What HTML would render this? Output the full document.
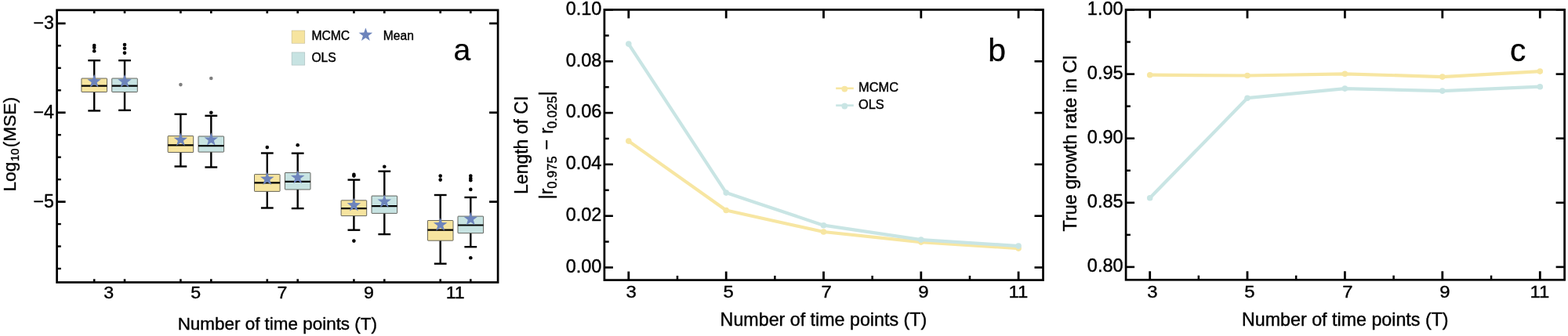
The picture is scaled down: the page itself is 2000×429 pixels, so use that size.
<!DOCTYPE html>
<html><head><meta charset="utf-8"><title>Figure</title>
<style>
html,body{margin:0;padding:0;background:#fff;}
svg{display:block;font-family:'Liberation Sans', sans-serif;fill:#000;}
text{stroke:#000;stroke-width:0.4px;stroke-linejoin:round;}
</style></head>
<body>
<svg width="2000" height="429" viewBox="0 0 2000 429">
<rect x="0" y="0" width="2000" height="429" fill="#ffffff"/>
<rect x="72.6" y="12.9" width="562.5" height="347.6" fill="none" stroke="#000" stroke-width="2.7"/>
<line x1="72.60" y1="29.90" x2="83.60" y2="29.90" stroke="#000" stroke-width="2.7" stroke-linecap="butt"/>
<line x1="624.10" y1="29.90" x2="635.10" y2="29.90" stroke="#000" stroke-width="2.7" stroke-linecap="butt"/>
<line x1="72.60" y1="58.36" x2="77.80" y2="58.36" stroke="#000" stroke-width="2.4" stroke-linecap="butt"/>
<line x1="72.60" y1="86.83" x2="77.80" y2="86.83" stroke="#000" stroke-width="2.4" stroke-linecap="butt"/>
<line x1="72.60" y1="115.29" x2="77.80" y2="115.29" stroke="#000" stroke-width="2.4" stroke-linecap="butt"/>
<line x1="72.60" y1="143.75" x2="83.60" y2="143.75" stroke="#000" stroke-width="2.7" stroke-linecap="butt"/>
<line x1="624.10" y1="143.75" x2="635.10" y2="143.75" stroke="#000" stroke-width="2.7" stroke-linecap="butt"/>
<line x1="72.60" y1="172.21" x2="77.80" y2="172.21" stroke="#000" stroke-width="2.4" stroke-linecap="butt"/>
<line x1="72.60" y1="200.68" x2="77.80" y2="200.68" stroke="#000" stroke-width="2.4" stroke-linecap="butt"/>
<line x1="72.60" y1="229.14" x2="77.80" y2="229.14" stroke="#000" stroke-width="2.4" stroke-linecap="butt"/>
<line x1="72.60" y1="257.60" x2="83.60" y2="257.60" stroke="#000" stroke-width="2.7" stroke-linecap="butt"/>
<line x1="624.10" y1="257.60" x2="635.10" y2="257.60" stroke="#000" stroke-width="2.7" stroke-linecap="butt"/>
<line x1="72.60" y1="286.06" x2="77.80" y2="286.06" stroke="#000" stroke-width="2.4" stroke-linecap="butt"/>
<line x1="72.60" y1="314.52" x2="77.80" y2="314.52" stroke="#000" stroke-width="2.4" stroke-linecap="butt"/>
<line x1="72.60" y1="342.99" x2="77.80" y2="342.99" stroke="#000" stroke-width="2.4" stroke-linecap="butt"/>
<text x="68.90" y="36.90" font-size="23.2" text-anchor="end" >−3</text>
<text x="68.90" y="150.80" font-size="23.2" text-anchor="end" >−4</text>
<text x="68.90" y="264.60" font-size="23.2" text-anchor="end" >−5</text>
<line x1="120.20" y1="12.90" x2="120.20" y2="17.10" stroke="#000" stroke-width="2.6" stroke-linecap="butt"/>
<line x1="120.20" y1="360.50" x2="120.20" y2="356.30" stroke="#000" stroke-width="2.6" stroke-linecap="butt"/>
<line x1="230.40" y1="12.90" x2="230.40" y2="17.10" stroke="#000" stroke-width="2.6" stroke-linecap="butt"/>
<line x1="230.40" y1="360.50" x2="230.40" y2="356.30" stroke="#000" stroke-width="2.6" stroke-linecap="butt"/>
<line x1="340.80" y1="12.90" x2="340.80" y2="17.10" stroke="#000" stroke-width="2.6" stroke-linecap="butt"/>
<line x1="340.80" y1="360.50" x2="340.80" y2="356.30" stroke="#000" stroke-width="2.6" stroke-linecap="butt"/>
<line x1="451.40" y1="12.90" x2="451.40" y2="17.10" stroke="#000" stroke-width="2.6" stroke-linecap="butt"/>
<line x1="451.40" y1="360.50" x2="451.40" y2="356.30" stroke="#000" stroke-width="2.6" stroke-linecap="butt"/>
<line x1="561.70" y1="12.90" x2="561.70" y2="17.10" stroke="#000" stroke-width="2.6" stroke-linecap="butt"/>
<line x1="561.70" y1="360.50" x2="561.70" y2="356.30" stroke="#000" stroke-width="2.6" stroke-linecap="butt"/>
<line x1="159.00" y1="12.90" x2="159.00" y2="17.10" stroke="#000" stroke-width="2.6" stroke-linecap="butt"/>
<line x1="159.00" y1="360.50" x2="159.00" y2="356.30" stroke="#000" stroke-width="2.6" stroke-linecap="butt"/>
<line x1="269.30" y1="12.90" x2="269.30" y2="17.10" stroke="#000" stroke-width="2.6" stroke-linecap="butt"/>
<line x1="269.30" y1="360.50" x2="269.30" y2="356.30" stroke="#000" stroke-width="2.6" stroke-linecap="butt"/>
<line x1="379.70" y1="12.90" x2="379.70" y2="17.10" stroke="#000" stroke-width="2.6" stroke-linecap="butt"/>
<line x1="379.70" y1="360.50" x2="379.70" y2="356.30" stroke="#000" stroke-width="2.6" stroke-linecap="butt"/>
<line x1="490.30" y1="12.90" x2="490.30" y2="17.10" stroke="#000" stroke-width="2.6" stroke-linecap="butt"/>
<line x1="490.30" y1="360.50" x2="490.30" y2="356.30" stroke="#000" stroke-width="2.6" stroke-linecap="butt"/>
<line x1="600.30" y1="12.90" x2="600.30" y2="17.10" stroke="#000" stroke-width="2.6" stroke-linecap="butt"/>
<line x1="600.30" y1="360.50" x2="600.30" y2="356.30" stroke="#000" stroke-width="2.6" stroke-linecap="butt"/>
<text transform="translate(138.80,381.3) scale(1.0,0.96)" font-size="23.2" text-anchor="middle">3</text>
<text transform="translate(249.60,381.3) scale(1.0,0.96)" font-size="23.2" text-anchor="middle">5</text>
<text transform="translate(360.00,381.3) scale(1.0,0.96)" font-size="23.2" text-anchor="middle">7</text>
<text transform="translate(470.40,381.3) scale(1.0,0.96)" font-size="23.2" text-anchor="middle">9</text>
<text transform="translate(580.70,381.3) scale(1.0,0.96)" font-size="23.2" text-anchor="middle">11</text>
<text transform="translate(353.8,420.5) scale(1,0.975)" font-size="22.45" text-anchor="middle">Number of time points (T)</text>
<text transform="translate(19.8,244.6) rotate(-90)" font-size="22.7" text-anchor="start">Log<tspan font-size="14.8" dy="4.2" dx="0.8">10</tspan><tspan dy="-4.2" dx="1.2">(MSE)</tspan></text>
<line x1="120.20" y1="77.20" x2="120.20" y2="100.05" stroke="#000" stroke-width="2.4" stroke-linecap="butt"/>
<line x1="120.20" y1="117.50" x2="120.20" y2="141.40" stroke="#000" stroke-width="2.4" stroke-linecap="butt"/>
<line x1="112.30" y1="77.20" x2="128.10" y2="77.20" stroke="#000" stroke-width="2.4" stroke-linecap="butt"/>
<line x1="112.30" y1="141.40" x2="128.10" y2="141.40" stroke="#000" stroke-width="2.4" stroke-linecap="butt"/>
<rect x="103.90" y="100.05" width="32.6" height="17.45" rx="0.6" fill="#f6e49f" stroke="#4c4c46" stroke-width="0.85"/>
<line x1="103.90" y1="109.70" x2="136.50" y2="109.70" stroke="#000" stroke-width="2.2" stroke-linecap="butt"/>
<polygon points="120.20,94.80 122.36,101.02 128.95,101.16 123.70,105.14 125.61,111.44 120.20,107.68 114.79,111.44 116.70,105.14 111.45,101.16 118.04,101.02" fill="#6d84bc"/>
<circle cx="120.20" cy="58.10" r="2.3" fill="#000"/>
<circle cx="120.20" cy="60.80" r="2.3" fill="#000"/>
<circle cx="120.20" cy="65.20" r="2.3" fill="#000"/>
<line x1="159.00" y1="77.20" x2="159.00" y2="100.05" stroke="#000" stroke-width="2.4" stroke-linecap="butt"/>
<line x1="159.00" y1="117.50" x2="159.00" y2="140.80" stroke="#000" stroke-width="2.4" stroke-linecap="butt"/>
<line x1="151.10" y1="77.20" x2="166.90" y2="77.20" stroke="#000" stroke-width="2.4" stroke-linecap="butt"/>
<line x1="151.10" y1="140.80" x2="166.90" y2="140.80" stroke="#000" stroke-width="2.4" stroke-linecap="butt"/>
<rect x="142.70" y="100.05" width="32.6" height="17.45" rx="0.6" fill="#c7e3e2" stroke="#4c4c46" stroke-width="0.85"/>
<line x1="142.70" y1="109.70" x2="175.30" y2="109.70" stroke="#000" stroke-width="2.2" stroke-linecap="butt"/>
<polygon points="159.00,94.80 161.16,101.02 167.75,101.16 162.50,105.14 164.41,111.44 159.00,107.68 153.59,111.44 155.50,105.14 150.25,101.16 156.84,101.02" fill="#6d84bc"/>
<circle cx="159.00" cy="57.10" r="2.3" fill="#000"/>
<circle cx="159.00" cy="61.80" r="2.3" fill="#000"/>
<circle cx="159.00" cy="67.60" r="2.3" fill="#000"/>
<line x1="230.40" y1="145.80" x2="230.40" y2="173.60" stroke="#000" stroke-width="2.4" stroke-linecap="butt"/>
<line x1="230.40" y1="194.50" x2="230.40" y2="212.50" stroke="#000" stroke-width="2.4" stroke-linecap="butt"/>
<line x1="222.50" y1="145.80" x2="238.30" y2="145.80" stroke="#000" stroke-width="2.4" stroke-linecap="butt"/>
<line x1="222.50" y1="212.50" x2="238.30" y2="212.50" stroke="#000" stroke-width="2.4" stroke-linecap="butt"/>
<rect x="214.10" y="173.60" width="32.6" height="20.90" rx="0.6" fill="#f6e49f" stroke="#4c4c46" stroke-width="0.85"/>
<line x1="214.10" y1="185.30" x2="246.70" y2="185.30" stroke="#000" stroke-width="2.2" stroke-linecap="butt"/>
<polygon points="230.40,169.40 232.56,175.62 239.15,175.76 233.90,179.74 235.81,186.04 230.40,182.28 224.99,186.04 226.90,179.74 221.65,175.76 228.24,175.62" fill="#6d84bc"/>
<circle cx="230.40" cy="108.10" r="2.3" fill="#7f7f7f"/>
<line x1="269.30" y1="147.80" x2="269.30" y2="174.00" stroke="#000" stroke-width="2.4" stroke-linecap="butt"/>
<line x1="269.30" y1="194.10" x2="269.30" y2="213.50" stroke="#000" stroke-width="2.4" stroke-linecap="butt"/>
<line x1="261.40" y1="147.80" x2="277.20" y2="147.80" stroke="#000" stroke-width="2.4" stroke-linecap="butt"/>
<line x1="261.40" y1="213.50" x2="277.20" y2="213.50" stroke="#000" stroke-width="2.4" stroke-linecap="butt"/>
<rect x="253.00" y="174.00" width="32.6" height="20.10" rx="0.6" fill="#c7e3e2" stroke="#4c4c46" stroke-width="0.85"/>
<line x1="253.00" y1="186.10" x2="285.60" y2="186.10" stroke="#000" stroke-width="2.2" stroke-linecap="butt"/>
<polygon points="269.30,169.20 271.46,175.42 278.05,175.56 272.80,179.54 274.71,185.84 269.30,182.08 263.89,185.84 265.80,179.54 260.55,175.56 267.14,175.42" fill="#6d84bc"/>
<circle cx="269.30" cy="143.80" r="2.3" fill="#000"/>
<circle cx="269.30" cy="100.05" r="2.3" fill="#7f7f7f"/>
<line x1="340.80" y1="195.50" x2="340.80" y2="222.60" stroke="#000" stroke-width="2.4" stroke-linecap="butt"/>
<line x1="340.80" y1="244.40" x2="340.80" y2="265.50" stroke="#000" stroke-width="2.4" stroke-linecap="butt"/>
<line x1="332.90" y1="195.50" x2="348.70" y2="195.50" stroke="#000" stroke-width="2.4" stroke-linecap="butt"/>
<line x1="332.90" y1="265.50" x2="348.70" y2="265.50" stroke="#000" stroke-width="2.4" stroke-linecap="butt"/>
<rect x="324.50" y="222.60" width="32.6" height="21.80" rx="0.6" fill="#f6e49f" stroke="#4c4c46" stroke-width="0.85"/>
<line x1="324.50" y1="233.40" x2="357.10" y2="233.40" stroke="#000" stroke-width="2.2" stroke-linecap="butt"/>
<polygon points="340.80,219.40 342.96,225.62 349.55,225.76 344.30,229.74 346.21,236.04 340.80,232.28 335.39,236.04 337.30,229.74 332.05,225.76 338.64,225.62" fill="#6d84bc"/>
<circle cx="340.80" cy="188.10" r="2.3" fill="#000"/>
<line x1="379.70" y1="195.70" x2="379.70" y2="220.50" stroke="#000" stroke-width="2.4" stroke-linecap="butt"/>
<line x1="379.70" y1="242.00" x2="379.70" y2="266.10" stroke="#000" stroke-width="2.4" stroke-linecap="butt"/>
<line x1="371.80" y1="195.70" x2="387.60" y2="195.70" stroke="#000" stroke-width="2.4" stroke-linecap="butt"/>
<line x1="371.80" y1="266.10" x2="387.60" y2="266.10" stroke="#000" stroke-width="2.4" stroke-linecap="butt"/>
<rect x="363.40" y="220.50" width="32.6" height="21.50" rx="0.6" fill="#c7e3e2" stroke="#4c4c46" stroke-width="0.85"/>
<line x1="363.40" y1="231.80" x2="396.00" y2="231.80" stroke="#000" stroke-width="2.2" stroke-linecap="butt"/>
<polygon points="379.70,217.60 381.86,223.82 388.45,223.96 383.20,227.94 385.11,234.24 379.70,230.48 374.29,234.24 376.20,227.94 370.95,223.96 377.54,223.82" fill="#6d84bc"/>
<circle cx="379.70" cy="185.30" r="2.3" fill="#000"/>
<line x1="451.40" y1="229.60" x2="451.40" y2="255.80" stroke="#000" stroke-width="2.4" stroke-linecap="butt"/>
<line x1="451.40" y1="275.60" x2="451.40" y2="293.70" stroke="#000" stroke-width="2.4" stroke-linecap="butt"/>
<line x1="443.50" y1="229.60" x2="459.30" y2="229.60" stroke="#000" stroke-width="2.4" stroke-linecap="butt"/>
<line x1="443.50" y1="293.70" x2="459.30" y2="293.70" stroke="#000" stroke-width="2.4" stroke-linecap="butt"/>
<rect x="435.10" y="255.80" width="32.6" height="19.80" rx="0.6" fill="#f6e49f" stroke="#4c4c46" stroke-width="0.85"/>
<line x1="435.10" y1="266.10" x2="467.70" y2="266.10" stroke="#000" stroke-width="2.2" stroke-linecap="butt"/>
<polygon points="451.40,252.80 453.56,259.02 460.15,259.16 454.90,263.14 456.81,269.44 451.40,265.68 445.99,269.44 447.90,263.14 442.65,259.16 449.24,259.02" fill="#6d84bc"/>
<circle cx="451.40" cy="222.90" r="2.3" fill="#000"/>
<circle cx="451.40" cy="224.60" r="2.3" fill="#000"/>
<circle cx="451.40" cy="307.60" r="2.3" fill="#000"/>
<line x1="490.30" y1="218.70" x2="490.30" y2="250.10" stroke="#000" stroke-width="2.4" stroke-linecap="butt"/>
<line x1="490.30" y1="272.40" x2="490.30" y2="299.10" stroke="#000" stroke-width="2.4" stroke-linecap="butt"/>
<line x1="482.40" y1="218.70" x2="498.20" y2="218.70" stroke="#000" stroke-width="2.4" stroke-linecap="butt"/>
<line x1="482.40" y1="299.10" x2="498.20" y2="299.10" stroke="#000" stroke-width="2.4" stroke-linecap="butt"/>
<rect x="474.00" y="250.10" width="32.6" height="22.30" rx="0.6" fill="#c7e3e2" stroke="#4c4c46" stroke-width="0.85"/>
<line x1="474.00" y1="263.10" x2="506.60" y2="263.10" stroke="#000" stroke-width="2.2" stroke-linecap="butt"/>
<polygon points="490.30,248.20 492.46,254.42 499.05,254.56 493.80,258.54 495.71,264.84 490.30,261.08 484.89,264.84 486.80,258.54 481.55,254.56 488.14,254.42" fill="#6d84bc"/>
<circle cx="490.30" cy="212.70" r="2.3" fill="#000"/>
<line x1="561.70" y1="249.00" x2="561.70" y2="281.50" stroke="#000" stroke-width="2.4" stroke-linecap="butt"/>
<line x1="561.70" y1="307.20" x2="561.70" y2="336.70" stroke="#000" stroke-width="2.4" stroke-linecap="butt"/>
<line x1="553.80" y1="249.00" x2="569.60" y2="249.00" stroke="#000" stroke-width="2.4" stroke-linecap="butt"/>
<line x1="553.80" y1="336.70" x2="569.60" y2="336.70" stroke="#000" stroke-width="2.4" stroke-linecap="butt"/>
<rect x="545.40" y="281.50" width="32.6" height="25.70" rx="0.6" fill="#f6e49f" stroke="#4c4c46" stroke-width="0.85"/>
<line x1="545.40" y1="293.70" x2="578.00" y2="293.70" stroke="#000" stroke-width="2.2" stroke-linecap="butt"/>
<polygon points="561.70,277.90 563.86,284.12 570.45,284.26 565.20,288.24 567.11,294.54 561.70,290.78 556.29,294.54 558.20,288.24 552.95,284.26 559.54,284.12" fill="#6d84bc"/>
<circle cx="561.70" cy="224.60" r="2.3" fill="#000"/>
<circle cx="561.70" cy="229.60" r="2.3" fill="#000"/>
<line x1="600.30" y1="252.00" x2="600.30" y2="276.10" stroke="#000" stroke-width="2.4" stroke-linecap="butt"/>
<line x1="600.30" y1="297.70" x2="600.30" y2="315.20" stroke="#000" stroke-width="2.4" stroke-linecap="butt"/>
<line x1="592.40" y1="252.00" x2="608.20" y2="252.00" stroke="#000" stroke-width="2.4" stroke-linecap="butt"/>
<line x1="592.40" y1="315.20" x2="608.20" y2="315.20" stroke="#000" stroke-width="2.4" stroke-linecap="butt"/>
<rect x="584.00" y="276.10" width="32.6" height="21.60" rx="0.6" fill="#c7e3e2" stroke="#4c4c46" stroke-width="0.85"/>
<line x1="584.00" y1="287.50" x2="616.60" y2="287.50" stroke="#000" stroke-width="2.2" stroke-linecap="butt"/>
<polygon points="600.30,270.50 602.46,276.72 609.05,276.86 603.80,280.84 605.71,287.14 600.30,283.38 594.89,287.14 596.80,280.84 591.55,276.86 598.14,276.72" fill="#6d84bc"/>
<circle cx="600.30" cy="224.60" r="2.3" fill="#000"/>
<circle cx="600.30" cy="227.80" r="2.3" fill="#000"/>
<circle cx="600.30" cy="230.20" r="2.3" fill="#000"/>
<circle cx="600.30" cy="241.90" r="2.3" fill="#000"/>
<circle cx="600.30" cy="329.30" r="2.3" fill="#000"/>
<rect x="372.1" y="39.0" width="16.7" height="16.2" fill="#f6e49f" stroke="#b9b08a" stroke-width="0.5"/>
<rect x="372.1" y="66.9" width="16.7" height="16.2" fill="#c7e3e2" stroke="#9fb2b2" stroke-width="0.5"/>
<text x="397.40" y="50.60" font-size="15.7" text-anchor="start" >MCMC</text>
<text x="397.40" y="78.50" font-size="15.7" text-anchor="start" >OLS</text>
<polygon points="466.40,35.40 468.56,41.62 475.15,41.76 469.90,45.74 471.81,52.04 466.40,48.28 460.99,52.04 462.90,45.74 457.65,41.76 464.24,41.62" fill="#6d84bc"/>
<text x="488.80" y="50.60" font-size="15.6" text-anchor="start" >Mean</text>
<text x="578.60" y="77.30" font-size="39" text-anchor="start" style="stroke-width:0.25px">a</text>
<polyline points="801.80,180.10 926.20,268.50 1050.50,296.00 1174.80,309.10 1299.10,317.10" fill="none" stroke="#f7e6a2" stroke-width="4.2" stroke-linejoin="round" stroke-linecap="round"/>
<circle cx="801.80" cy="180.10" r="3.8" fill="#f7e6a2"/>
<circle cx="926.20" cy="268.50" r="3.8" fill="#f7e6a2"/>
<circle cx="1050.50" cy="296.00" r="3.8" fill="#f7e6a2"/>
<circle cx="1174.80" cy="309.10" r="3.8" fill="#f7e6a2"/>
<circle cx="1299.10" cy="317.10" r="3.8" fill="#f7e6a2"/>
<polyline points="801.80,56.10 926.20,246.10 1050.50,287.70 1174.80,306.10 1299.10,314.10" fill="none" stroke="#c9e5e4" stroke-width="4.2" stroke-linejoin="round" stroke-linecap="round"/>
<circle cx="801.80" cy="56.10" r="3.8" fill="#c9e5e4"/>
<circle cx="926.20" cy="246.10" r="3.8" fill="#c9e5e4"/>
<circle cx="1050.50" cy="287.70" r="3.8" fill="#c9e5e4"/>
<circle cx="1174.80" cy="306.10" r="3.8" fill="#c9e5e4"/>
<circle cx="1299.10" cy="314.10" r="3.8" fill="#c9e5e4"/>
<rect x="770.9" y="12.4" width="559.6" height="345.20000000000005" fill="none" stroke="#000" stroke-width="2.7"/>
<line x1="770.90" y1="12.50" x2="781.90" y2="12.50" stroke="#000" stroke-width="2.6" stroke-linecap="butt"/>
<line x1="1319.50" y1="12.50" x2="1330.50" y2="12.50" stroke="#000" stroke-width="2.6" stroke-linecap="butt"/>
<text transform="translate(767.40,18.80) scale(1.0,1.0)" font-size="23.5" text-anchor="end">0.10</text>
<line x1="770.90" y1="78.30" x2="781.90" y2="78.30" stroke="#000" stroke-width="2.6" stroke-linecap="butt"/>
<line x1="1319.50" y1="78.30" x2="1330.50" y2="78.30" stroke="#000" stroke-width="2.6" stroke-linecap="butt"/>
<text transform="translate(767.40,84.60) scale(1.0,1.0)" font-size="23.5" text-anchor="end">0.08</text>
<line x1="770.90" y1="144.10" x2="781.90" y2="144.10" stroke="#000" stroke-width="2.6" stroke-linecap="butt"/>
<line x1="1319.50" y1="144.10" x2="1330.50" y2="144.10" stroke="#000" stroke-width="2.6" stroke-linecap="butt"/>
<text transform="translate(767.40,150.40) scale(1.0,1.0)" font-size="23.5" text-anchor="end">0.06</text>
<line x1="770.90" y1="209.90" x2="781.90" y2="209.90" stroke="#000" stroke-width="2.6" stroke-linecap="butt"/>
<line x1="1319.50" y1="209.90" x2="1330.50" y2="209.90" stroke="#000" stroke-width="2.6" stroke-linecap="butt"/>
<text transform="translate(767.40,216.20) scale(1.0,1.0)" font-size="23.5" text-anchor="end">0.04</text>
<line x1="770.90" y1="275.70" x2="781.90" y2="275.70" stroke="#000" stroke-width="2.6" stroke-linecap="butt"/>
<line x1="1319.50" y1="275.70" x2="1330.50" y2="275.70" stroke="#000" stroke-width="2.6" stroke-linecap="butt"/>
<text transform="translate(767.40,282.00) scale(1.0,1.0)" font-size="23.5" text-anchor="end">0.02</text>
<line x1="770.90" y1="341.50" x2="781.90" y2="341.50" stroke="#000" stroke-width="2.6" stroke-linecap="butt"/>
<line x1="1319.50" y1="341.50" x2="1330.50" y2="341.50" stroke="#000" stroke-width="2.6" stroke-linecap="butt"/>
<text transform="translate(767.40,347.80) scale(1.0,1.0)" font-size="23.5" text-anchor="end">0.00</text>
<line x1="770.90" y1="45.40" x2="776.70" y2="45.40" stroke="#000" stroke-width="2.5" stroke-linecap="butt"/>
<line x1="770.90" y1="111.20" x2="776.70" y2="111.20" stroke="#000" stroke-width="2.5" stroke-linecap="butt"/>
<line x1="770.90" y1="177.00" x2="776.70" y2="177.00" stroke="#000" stroke-width="2.5" stroke-linecap="butt"/>
<line x1="770.90" y1="242.80" x2="776.70" y2="242.80" stroke="#000" stroke-width="2.5" stroke-linecap="butt"/>
<line x1="770.90" y1="308.60" x2="776.70" y2="308.60" stroke="#000" stroke-width="2.5" stroke-linecap="butt"/>
<line x1="801.80" y1="12.40" x2="801.80" y2="23.40" stroke="#000" stroke-width="2.8" stroke-linecap="butt"/>
<line x1="801.80" y1="357.60" x2="801.80" y2="346.60" stroke="#000" stroke-width="2.8" stroke-linecap="butt"/>
<line x1="864.00" y1="357.60" x2="864.00" y2="352.00" stroke="#000" stroke-width="2.5" stroke-linecap="butt"/>
<line x1="926.20" y1="12.40" x2="926.20" y2="23.40" stroke="#000" stroke-width="2.8" stroke-linecap="butt"/>
<line x1="926.20" y1="357.60" x2="926.20" y2="346.60" stroke="#000" stroke-width="2.8" stroke-linecap="butt"/>
<line x1="988.35" y1="357.60" x2="988.35" y2="352.00" stroke="#000" stroke-width="2.5" stroke-linecap="butt"/>
<line x1="1050.50" y1="12.40" x2="1050.50" y2="23.40" stroke="#000" stroke-width="2.8" stroke-linecap="butt"/>
<line x1="1050.50" y1="357.60" x2="1050.50" y2="346.60" stroke="#000" stroke-width="2.8" stroke-linecap="butt"/>
<line x1="1112.65" y1="357.60" x2="1112.65" y2="352.00" stroke="#000" stroke-width="2.5" stroke-linecap="butt"/>
<line x1="1174.80" y1="12.40" x2="1174.80" y2="23.40" stroke="#000" stroke-width="2.8" stroke-linecap="butt"/>
<line x1="1174.80" y1="357.60" x2="1174.80" y2="346.60" stroke="#000" stroke-width="2.8" stroke-linecap="butt"/>
<line x1="1236.95" y1="357.60" x2="1236.95" y2="352.00" stroke="#000" stroke-width="2.5" stroke-linecap="butt"/>
<line x1="1299.10" y1="12.40" x2="1299.10" y2="23.40" stroke="#000" stroke-width="2.8" stroke-linecap="butt"/>
<line x1="1299.10" y1="357.60" x2="1299.10" y2="346.60" stroke="#000" stroke-width="2.8" stroke-linecap="butt"/>
<text transform="translate(805.10,379.80) scale(1.04,0.985)" font-size="23" text-anchor="middle">3</text>
<text transform="translate(929.10,379.80) scale(1.04,0.985)" font-size="23" text-anchor="middle">5</text>
<text transform="translate(1054.10,379.80) scale(1.04,0.985)" font-size="23" text-anchor="middle">7</text>
<text transform="translate(1177.80,379.80) scale(1.04,0.985)" font-size="23" text-anchor="middle">9</text>
<text transform="translate(1298.80,379.80) scale(1.04,0.985)" font-size="23" text-anchor="middle">11</text>
<text x="1050.40" y="415.80" font-size="23.25" text-anchor="middle" >Number of time points (T)</text>
<line x1="1066.20" y1="112.80" x2="1088.80" y2="112.80" stroke="#f7e6a2" stroke-width="2.6" stroke-linecap="butt"/>
<circle cx="1077.3" cy="113.6" r="3.9" fill="#f7e6a2"/>
<line x1="1066.20" y1="134.60" x2="1088.80" y2="134.60" stroke="#c9e5e4" stroke-width="2.6" stroke-linecap="butt"/>
<circle cx="1077.3" cy="135.5" r="3.9" fill="#c9e5e4"/>
<text x="1095.00" y="117.20" font-size="16.4" text-anchor="start" >MCMC</text>
<text x="1095.00" y="139.20" font-size="16.4" text-anchor="start" >OLS</text>
<text x="1260.20" y="77.60" font-size="41" text-anchor="start" style="stroke-width:0.25px">b</text>
<text transform="translate(673.2,185.3) rotate(-90)" font-size="23" text-anchor="middle">Length of CI</text>
<text transform="translate(705.4,254.3) rotate(-90)" font-size="23" text-anchor="start">|r<tspan font-size="16.5" dy="4.3">0.975</tspan><tspan dy="-4.3" dx="1.5"> − </tspan><tspan dx="1">r</tspan><tspan font-size="16.5" dy="4.3" dx="-1">0.025</tspan><tspan dy="-4.3" dx="0.5">|</tspan></text>
<polyline points="1466.70,95.70 1591.00,96.50 1715.40,94.30 1839.80,98.10 1964.30,91.10" fill="none" stroke="#f7e6a2" stroke-width="4.2" stroke-linejoin="round" stroke-linecap="round"/>
<circle cx="1466.70" cy="95.70" r="3.8" fill="#f7e6a2"/>
<circle cx="1591.00" cy="96.50" r="3.8" fill="#f7e6a2"/>
<circle cx="1715.40" cy="94.30" r="3.8" fill="#f7e6a2"/>
<circle cx="1839.80" cy="98.10" r="3.8" fill="#f7e6a2"/>
<circle cx="1964.30" cy="91.10" r="3.8" fill="#f7e6a2"/>
<polyline points="1466.70,252.70 1591.00,125.20 1715.40,113.10 1839.80,116.10 1964.30,110.70" fill="none" stroke="#c9e5e4" stroke-width="4.2" stroke-linejoin="round" stroke-linecap="round"/>
<circle cx="1466.70" cy="252.70" r="3.8" fill="#c9e5e4"/>
<circle cx="1591.00" cy="125.20" r="3.8" fill="#c9e5e4"/>
<circle cx="1715.40" cy="113.10" r="3.8" fill="#c9e5e4"/>
<circle cx="1839.80" cy="116.10" r="3.8" fill="#c9e5e4"/>
<circle cx="1964.30" cy="110.70" r="3.8" fill="#c9e5e4"/>
<rect x="1436.1" y="12.4" width="559.5" height="344.90000000000003" fill="none" stroke="#000" stroke-width="2.7"/>
<line x1="1436.10" y1="12.50" x2="1447.10" y2="12.50" stroke="#000" stroke-width="2.6" stroke-linecap="butt"/>
<line x1="1984.60" y1="12.50" x2="1995.60" y2="12.50" stroke="#000" stroke-width="2.6" stroke-linecap="butt"/>
<text transform="translate(1432.60,18.80) scale(1.0,1.0)" font-size="23.5" text-anchor="end">1.00</text>
<line x1="1436.10" y1="94.60" x2="1447.10" y2="94.60" stroke="#000" stroke-width="2.6" stroke-linecap="butt"/>
<line x1="1984.60" y1="94.60" x2="1995.60" y2="94.60" stroke="#000" stroke-width="2.6" stroke-linecap="butt"/>
<text transform="translate(1432.60,100.90) scale(1.0,1.0)" font-size="23.5" text-anchor="end">0.95</text>
<line x1="1436.10" y1="176.70" x2="1447.10" y2="176.70" stroke="#000" stroke-width="2.6" stroke-linecap="butt"/>
<line x1="1984.60" y1="176.70" x2="1995.60" y2="176.70" stroke="#000" stroke-width="2.6" stroke-linecap="butt"/>
<text transform="translate(1432.60,183.00) scale(1.0,1.0)" font-size="23.5" text-anchor="end">0.90</text>
<line x1="1436.10" y1="258.80" x2="1447.10" y2="258.80" stroke="#000" stroke-width="2.6" stroke-linecap="butt"/>
<line x1="1984.60" y1="258.80" x2="1995.60" y2="258.80" stroke="#000" stroke-width="2.6" stroke-linecap="butt"/>
<text transform="translate(1432.60,265.10) scale(1.0,1.0)" font-size="23.5" text-anchor="end">0.85</text>
<line x1="1436.10" y1="340.90" x2="1447.10" y2="340.90" stroke="#000" stroke-width="2.6" stroke-linecap="butt"/>
<line x1="1984.60" y1="340.90" x2="1995.60" y2="340.90" stroke="#000" stroke-width="2.6" stroke-linecap="butt"/>
<text transform="translate(1432.60,347.20) scale(1.0,1.0)" font-size="23.5" text-anchor="end">0.80</text>
<line x1="1436.10" y1="53.55" x2="1441.90" y2="53.55" stroke="#000" stroke-width="2.5" stroke-linecap="butt"/>
<line x1="1436.10" y1="135.65" x2="1441.90" y2="135.65" stroke="#000" stroke-width="2.5" stroke-linecap="butt"/>
<line x1="1436.10" y1="217.75" x2="1441.90" y2="217.75" stroke="#000" stroke-width="2.5" stroke-linecap="butt"/>
<line x1="1436.10" y1="299.85" x2="1441.90" y2="299.85" stroke="#000" stroke-width="2.5" stroke-linecap="butt"/>
<line x1="1466.70" y1="12.40" x2="1466.70" y2="23.40" stroke="#000" stroke-width="2.8" stroke-linecap="butt"/>
<line x1="1466.70" y1="357.30" x2="1466.70" y2="346.30" stroke="#000" stroke-width="2.8" stroke-linecap="butt"/>
<line x1="1528.85" y1="357.30" x2="1528.85" y2="351.70" stroke="#000" stroke-width="2.5" stroke-linecap="butt"/>
<line x1="1591.00" y1="12.40" x2="1591.00" y2="23.40" stroke="#000" stroke-width="2.8" stroke-linecap="butt"/>
<line x1="1591.00" y1="357.30" x2="1591.00" y2="346.30" stroke="#000" stroke-width="2.8" stroke-linecap="butt"/>
<line x1="1653.20" y1="357.30" x2="1653.20" y2="351.70" stroke="#000" stroke-width="2.5" stroke-linecap="butt"/>
<line x1="1715.40" y1="12.40" x2="1715.40" y2="23.40" stroke="#000" stroke-width="2.8" stroke-linecap="butt"/>
<line x1="1715.40" y1="357.30" x2="1715.40" y2="346.30" stroke="#000" stroke-width="2.8" stroke-linecap="butt"/>
<line x1="1777.60" y1="357.30" x2="1777.60" y2="351.70" stroke="#000" stroke-width="2.5" stroke-linecap="butt"/>
<line x1="1839.80" y1="12.40" x2="1839.80" y2="23.40" stroke="#000" stroke-width="2.8" stroke-linecap="butt"/>
<line x1="1839.80" y1="357.30" x2="1839.80" y2="346.30" stroke="#000" stroke-width="2.8" stroke-linecap="butt"/>
<line x1="1902.05" y1="357.30" x2="1902.05" y2="351.70" stroke="#000" stroke-width="2.5" stroke-linecap="butt"/>
<line x1="1964.30" y1="12.40" x2="1964.30" y2="23.40" stroke="#000" stroke-width="2.8" stroke-linecap="butt"/>
<line x1="1964.30" y1="357.30" x2="1964.30" y2="346.30" stroke="#000" stroke-width="2.8" stroke-linecap="butt"/>
<text transform="translate(1470.00,379.80) scale(1.04,0.985)" font-size="23" text-anchor="middle">3</text>
<text transform="translate(1594.00,379.80) scale(1.04,0.985)" font-size="23" text-anchor="middle">5</text>
<text transform="translate(1719.00,379.80) scale(1.04,0.985)" font-size="23" text-anchor="middle">7</text>
<text transform="translate(1842.80,379.80) scale(1.04,0.985)" font-size="23" text-anchor="middle">9</text>
<text transform="translate(1964.00,379.80) scale(1.04,0.985)" font-size="23" text-anchor="middle">11</text>
<text x="1715.80" y="415.80" font-size="23.25" text-anchor="middle" >Number of time points (T)</text>
<text x="1926.00" y="77.80" font-size="40.5" text-anchor="start" style="stroke-width:0.25px">c</text>
<text transform="translate(1373.2,182.8) rotate(-90)" font-size="23.4" text-anchor="middle">True growth rate in CI</text>
</svg>
</body></html>
